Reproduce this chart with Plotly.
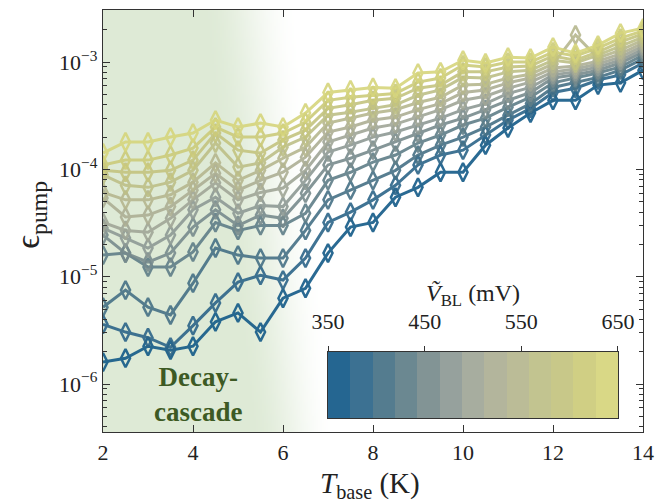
import base64, struct, zlib
import plotly.graph_objects as go

# ---------------- data ----------------
T_base = [2, 2.5, 3, 3.5, 4, 4.5, 5, 5.5, 6, 6.5, 7, 7.5, 8, 8.5, 9, 9.5,
          10, 10.5, 11, 11.5, 12, 12.5, 13, 13.5, 14]

V_BL = [350, 375, 400, 425, 450, 475, 500, 525, 550, 575, 600, 625, 650]

eps_350 = [1.6e-6, 1.74e-6, 2.25e-6, 2.07e-6, 2.25e-6, 3.8e-6, 4.6e-6, 3.05e-6, 6.3e-6, 7.8e-6, 1.66e-5, 2.9e-5, 3.2e-5,
           5.5e-5, 6.8e-5, 9.4e-5, 9.4e-5, 1.68e-4, 2.43e-4, 3.35e-4, 4.4e-4, 4.4e-4, 6.1e-4, 6.4e-4, 8.4e-4]
eps_375 = [3.6e-6, 3.05e-6, 2.7e-6, 2.2e-6, 3.5e-6, 5.7e-6, 8.9e-6, 1.03e-5, 9.3e-6, 1.49e-5, 3.2e-5, 4.0e-5, 5.2e-5,
           7.1e-5, 1.10e-4, 1.36e-4, 1.51e-4, 2.09e-4, 2.88e-4, 3.7e-4, 5.2e-4, 5.7e-4, 6.8e-4, 7.6e-4, 9.8e-4]
eps_400 = [5.2e-6, 7.5e-6, 5.2e-6, 4.4e-6, 8.7e-6, 1.85e-5, 1.59e-5, 1.49e-5, 1.49e-5, 2.7e-5, 5.2e-5, 6.4e-5, 7.9e-5,
           9.8e-5, 1.36e-4, 1.68e-4, 2.0e-4, 2.48e-4, 3.2e-4, 4.1e-4, 5.8e-4, 6.5e-4, 7.2e-4, 8.4e-4, 1.07e-3]
eps_425 = [1.59e-5, 1.66e-5, 1.23e-5, 1.23e-5, 1.7e-5, 3.2e-5, 2.7e-5, 3.0e-5, 3.0e-5, 3.9e-5, 7.9e-5, 9.4e-5, 1.17e-4,
           1.36e-4, 1.76e-4, 2.09e-4, 2.59e-4, 3.0e-4, 3.8e-4, 4.7e-4, 6.4e-4, 7.1e-4, 7.9e-4, 9.0e-4, 1.16e-3]
eps_450 = [2.44e-5, 1.66e-5, 1.37e-5, 1.66e-5, 2.9e-5, 4.2e-5, 3.0e-5, 3.75e-5, 3.5e-5, 6.0e-5, 1.10e-4, 1.27e-4, 1.51e-4,
           1.80e-4, 2.18e-4, 2.59e-4, 3.0e-4, 3.6e-4, 4.4e-4, 5.2e-4, 7.1e-4, 7.6e-4, 8.4e-4, 9.8e-4, 1.24e-3]
eps_475 = [2.84e-5, 2.29e-5, 1.85e-5, 2.44e-5, 4.2e-5, 5.5e-5, 3.9e-5, 4.6e-5, 4.5e-5, 7.9e-5, 1.45e-4, 1.68e-4, 2.0e-4,
           2.23e-4, 2.59e-4, 3.0e-4, 3.6e-4, 4.1e-4, 5.1e-4, 5.8e-4, 7.6e-4, 8.1e-4, 9.0e-4, 1.04e-3, 1.32e-3]
eps_500 = [3.2e-5, 2.7e-5, 2.6e-5, 3.5e-5, 5.2e-5, 7.5e-5, 5.2e-5, 6.1e-5, 6.7e-5, 9.8e-5, 1.80e-4, 2.09e-4, 2.43e-4,
           2.64e-4, 3.07e-4, 3.6e-4, 4.4e-4, 4.8e-4, 5.7e-4, 6.5e-4, 8.1e-4, 8.6e-4, 9.6e-4, 1.11e-3, 1.41e-3]
eps_525 = [5.4e-5, 3.6e-5, 3.75e-5, 4.5e-5, 6.4e-5, 9.2e-5, 6.4e-5, 7.9e-5, 9.4e-5, 1.30e-4, 2.23e-4, 2.48e-4, 2.88e-4,
           3.07e-4, 3.6e-4, 4.1e-4, 5.2e-4, 5.5e-4, 6.4e-4, 7.1e-4, 8.8e-4, 9.2e-4, 1.02e-3, 1.19e-3, 1.5e-3]
eps_550 = [6.1e-5, 5.2e-5, 5.2e-5, 5.8e-5, 7.6e-5, 1.15e-4, 7.9e-5, 9.8e-5, 1.27e-4, 1.61e-4, 2.7e-4, 3.0e-4, 3.35e-4,
           3.6e-4, 4.2e-4, 4.7e-4, 6.1e-4, 6.2e-4, 7.1e-4, 7.7e-4, 9.6e-4, 1.79e-3, 1.09e-3, 1.29e-3, 1.6e-3]
eps_575 = [8.9e-5, 7.1e-5, 6.8e-5, 7.6e-5, 9.8e-5, 1.76e-4, 1.05e-4, 1.15e-4, 1.61e-4, 2.0e-4, 3.2e-4, 3.4e-4, 3.7e-4,
           4.0e-4, 4.9e-4, 5.5e-4, 7.2e-4, 7.1e-4, 8.1e-4, 8.4e-4, 1.04e-3, 9.8e-4, 1.16e-3, 1.41e-3, 1.71e-3]
eps_600 = [9.8e-5, 9.4e-5, 9.4e-5, 9.8e-5, 1.22e-4, 2.18e-4, 1.51e-4, 1.42e-4, 1.88e-4, 2.32e-4, 3.7e-4, 4.0e-4, 4.4e-4,
           4.6e-4, 5.7e-4, 6.1e-4, 8.1e-4, 8.1e-4, 9.0e-4, 9.2e-4, 1.14e-3, 1.04e-3, 1.24e-3, 1.54e-3, 1.83e-3]
eps_625 = [1.10e-4, 1.22e-4, 1.22e-4, 1.36e-4, 1.58e-4, 2.48e-4, 2.0e-4, 2.0e-4, 2.18e-4, 2.76e-4, 4.4e-4, 4.7e-4, 4.9e-4,
           5.1e-4, 6.5e-4, 7.1e-4, 9.4e-4, 9.0e-4, 1.0e-3, 1.0e-3, 1.24e-3, 1.14e-3, 1.35e-3, 1.67e-3, 1.95e-3]
eps_650 = [1.42e-4, 1.80e-4, 1.80e-4, 2.0e-4, 2.18e-4, 2.88e-4, 2.48e-4, 2.7e-4, 2.48e-4, 3.35e-4, 5.2e-4, 5.5e-4, 5.8e-4,
           5.7e-4, 7.9e-4, 8.1e-4, 1.04e-3, 9.8e-4, 1.11e-3, 1.09e-3, 1.38e-3, 1.21e-3, 1.44e-3, 1.86e-3, 2.07e-3]

series = [eps_350, eps_375, eps_400, eps_425, eps_450, eps_475, eps_500,
          eps_525, eps_550, eps_575, eps_600, eps_625, eps_650]

x_ticks = [2, 4, 6, 8, 10, 12, 14]
y_ticks = [1e-6, 1e-5, 1e-4, 1e-3]
y_ticktext = ["10<sup>−6</sup>", "10<sup>−5</sup>", "10<sup>−4</sup>", "10<sup>−3</sup>"]
y_minor = [m * d for d in [1e-7, 1e-6, 1e-5, 1e-4, 1e-3] for m in range(2, 10)]
cb_ticks = [350, 450, 550, 650]

# ---------------- styles ----------------
colors = ['#135a88', '#2c6589', '#467186', '#5f7e88', '#788b8d', '#8e9a95', '#a0a697',
          '#adaf94', '#b6b78f', '#bdbf87', '#c4c47f', '#cccb7a', '#d6d57c']
FONT = "Liberation Serif, DejaVu Serif, serif"


def make_png(w, h, func):
    rows = []
    for j in range(h):
        row = bytearray()
        for i in range(w):
            row += bytes(func(i / (w - 1), j / (h - 1)))
        rows.append(b'\x00' + bytes(row))
    raw = b''.join(rows)

    def chunk(tag, data):
        c = struct.pack('>I', len(data)) + tag + data
        return c + struct.pack('>I', zlib.crc32(tag + data) & 0xffffffff)
    png = b'\x89PNG\r\n\x1a\n'
    png += chunk(b'IHDR', struct.pack('>IIBBBBB', w, h, 8, 2, 0, 0, 0))
    png += chunk(b'IDAT', zlib.compress(raw, 9))
    png += chunk(b'IEND', b'')
    return 'data:image/png;base64,' + base64.b64encode(png).decode()


green = (222, 234, 214)


def bg(f, s):
    start = 0.18 + 0.09 * s
    end = 0.36 + 0.07 * s
    t = min(1.0, max(0.0, (f - start) / (end - start)))
    a = 1 - t * t * (3 - 2 * t)
    return tuple(int(round(255 * (1 - a) + g * a)) for g in green)


bg_uri = make_png(270, 120, bg)

fig = go.Figure()

for v, ys, c in zip(V_BL, series, colors):
    fig.add_trace(go.Scatter(
        x=T_base, y=ys, mode='lines+markers', name=f'{v} mV',
        line=dict(color=c, width=3),
        marker=dict(symbol='diamond-tall-open', size=13, color=c, line=dict(width=2.5, color=c)),
        opacity=0.9, showlegend=False, xaxis='x', yaxis='y'))

# discrete colour bar as a heatmap on its own axes
n = len(V_BL)
edges = [V_BL[0] + k * (V_BL[-1] - V_BL[0]) / n for k in range(n + 1)]
cscale = [[k / (n - 1), colors[k]] for k in range(n)]
fig.add_trace(go.Heatmap(
    x=edges, y=[0, 1], z=[V_BL], colorscale=cscale, zmin=V_BL[0], zmax=V_BL[-1],
    opacity=0.92, showscale=False, xaxis='x2', yaxis='y2', hoverinfo='skip'))

axis_common = dict(showline=True, linecolor='#333333', linewidth=1.2, mirror='ticks',
                   ticks='inside', tickcolor='#333333', showgrid=False, zeroline=False,
                   automargin=False,
                   tickfont=dict(family=FONT, size=22, color='#222222'))

# the page body adds an 8 px offset, so the figure is 8 px smaller than the window
fig.update_layout(
    width=664, height=495,
    margin=dict(l=95, r=29, t=2, b=71),
    paper_bgcolor='white', plot_bgcolor='rgba(0,0,0,0)',
    font=dict(family=FONT, color='#222222'),
    xaxis=dict(range=[2, 14], tickvals=x_ticks, ticklen=7, domain=[0, 1], **axis_common),
    yaxis=dict(type='log', range=[-6.447, -2.515], tickvals=y_ticks, ticktext=y_ticktext, ticklen=7,
               minor=dict(ticks='inside', ticklen=4, tickvals=y_minor, tickcolor='#333333', showgrid=False),
               **axis_common),
    xaxis2=dict(domain=[0.4167, 0.9537], anchor='y2', range=[V_BL[0], V_BL[-1]], side='top',
                tickvals=cb_ticks, ticks='outside', ticklen=5, tickcolor='#333333',
                ticklabelstandoff=8,
                showline=True, linecolor='#333333', linewidth=1.2, mirror=True,
                showgrid=False, zeroline=False, automargin=False,
                tickfont=dict(family=FONT, size=22, color='#222222')),
    yaxis2=dict(domain=[0.0332, 0.1896], anchor='x2', range=[0, 1], showticklabels=False,
                ticks='', showline=True, linecolor='#333333', linewidth=1.2, mirror=True,
                showgrid=False, zeroline=False, automargin=False),
    images=[dict(source=bg_uri, xref='paper', yref='paper', x=0, y=1, sizex=1, sizey=1,
                 sizing='stretch', xanchor='left', yanchor='top', layer='below')],
    annotations=[
        dict(text='<b>Decay-<br>cascade</b>', xref='paper', yref='paper', x=0.176, y=0.088,
             xanchor='center', yanchor='middle',
             showarrow=False, font=dict(family=FONT, size=27, color='#3d5a24'), align='center'),
        dict(text='<i>Ṽ</i><sub>BL</sub> (mV)', xref='paper', yref='paper', x=0.685, y=0.325,
             xanchor='center', yanchor='middle',
             showarrow=False, font=dict(family=FONT, size=24, color='#222222')),
        dict(text='<i>T</i><sub>base</sub> (K)', xref='paper', yref='paper', x=0.494, y=-0.125,
             xanchor='center', yanchor='middle',
             showarrow=False, font=dict(family=FONT, size=29, color='#222222')),
        dict(text='ϵ<sub>pump</sub>', xref='paper', yref='paper', x=-0.135, y=0.515,
             xanchor='center', yanchor='middle', textangle=-90,
             showarrow=False, font=dict(family=FONT, size=34, color='#222222')),
    ],
)

fig.write_html('out.html')
